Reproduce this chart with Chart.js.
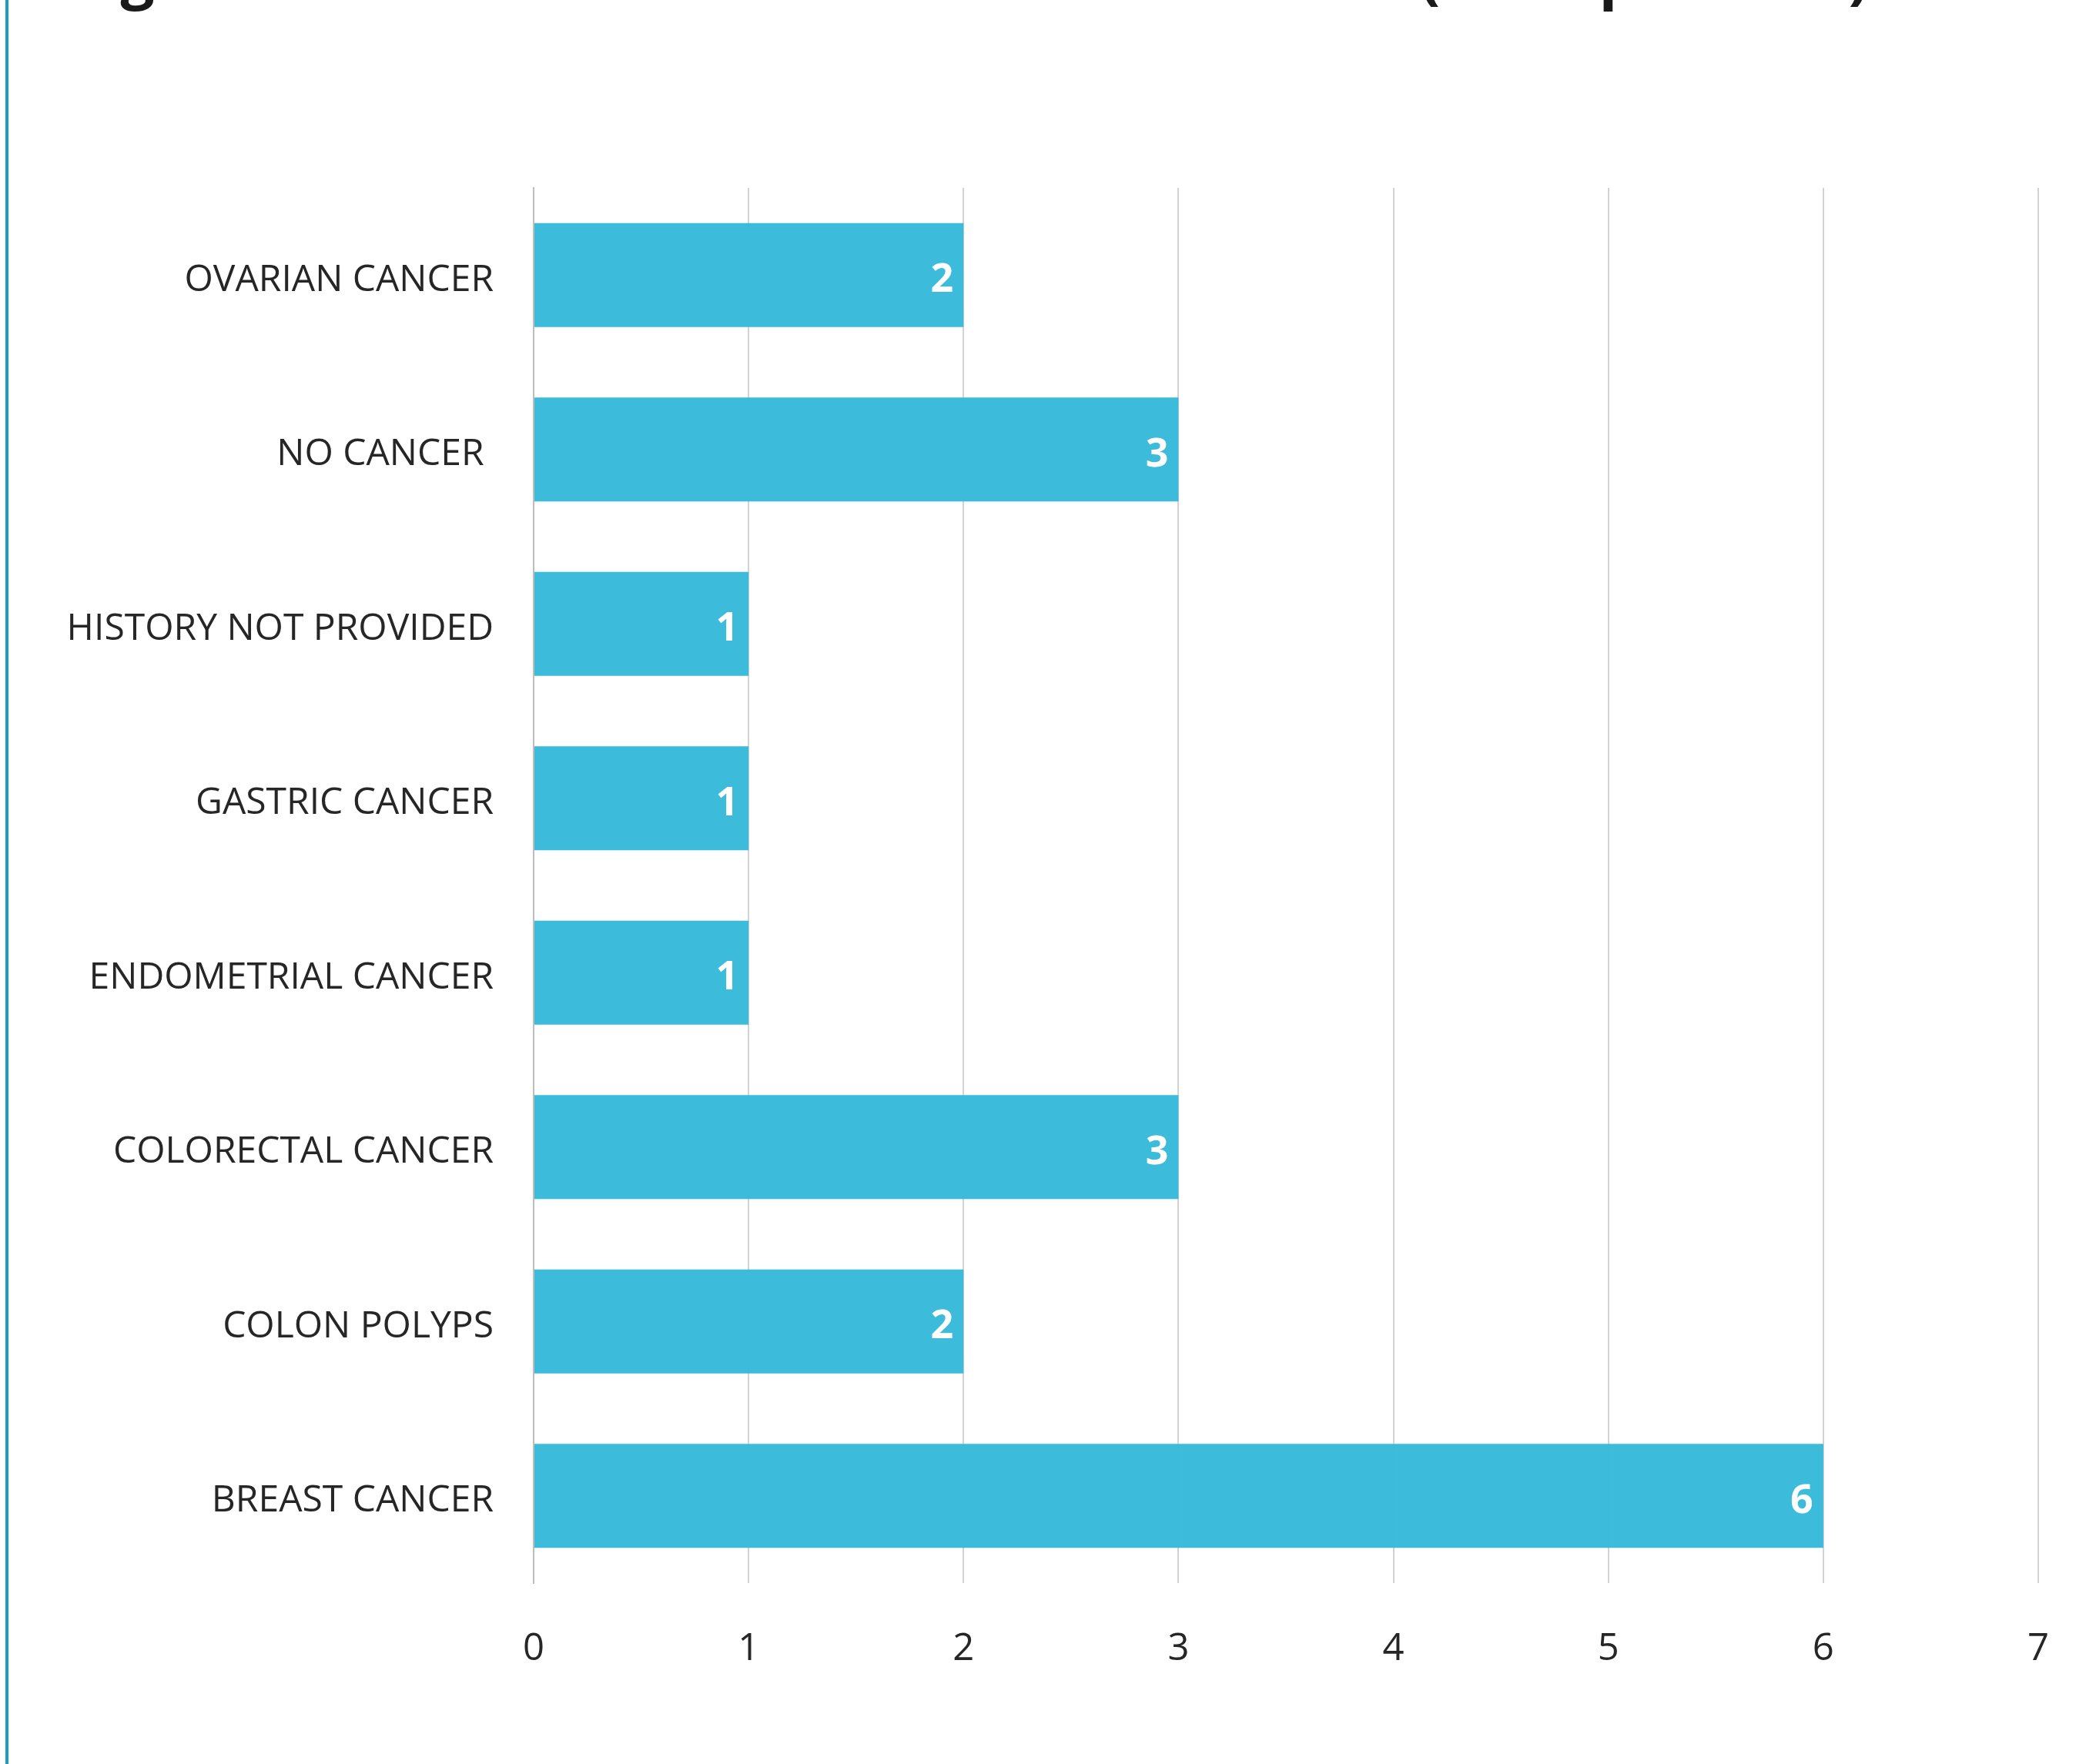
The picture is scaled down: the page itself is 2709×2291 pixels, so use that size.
<!DOCTYPE html>
<html>
<head>
<meta charset="utf-8">
<script src="https://cdn.jsdelivr.net/npm/chart.js@4.4.0/dist/chart.umd.min.js"></script>
<style>
  html, body { margin: 0; padding: 0; background: #fff; overflow: hidden; }
  #wrap { position: relative; width: 2709px; height: 2291px; overflow: hidden; }
  #borde { position: absolute; left: 7px; top: 0; width: 4px; height: 2291px; background: #1c9ec2; }
  #titulo {
    position: absolute; left: 90px; top: -73px; white-space: nowrap; word-spacing: 1px;
    font-family: "Open Sans", sans-serif; font-weight: 700; font-size: 78px; line-height: 78px; color: #1a1a1a;
  }
  #grafico { position: absolute; left: 0; top: 0; }
</style>
</head>
<body>
<div id="wrap">
  <div id="borde"></div>
  <div id="titulo">Figure 1: Distribution of cancer in the cohort (n=19 patients)</div>
  <canvas id="grafico" width="2709" height="2291"></canvas>
</div>
<script>
// Datos
const categorias = [
    "OVARIAN CANCER",
    "NO CANCER ",
    "HISTORY NOT PROVIDED",
    "GASTRIC CANCER",
    "ENDOMETRIAL CANCER",
    "COLORECTAL CANCER",
    "COLON POLYPS",
    "BREAST CANCER"
];
const pacientes = [2, 3, 1, 1, 1, 3, 2, 6];
const ticksX = [0, 1, 2, 3, 4, 5, 6, 7];

// Etiquetas blancas al final de cada barra
const etiquetas = {
    id: "etiquetas",
    afterDatasetsDraw(chart) {
        const ctx = chart.ctx;
        const meta = chart.getDatasetMeta(0);
        ctx.save();
        ctx.font = "bold 52px 'Open Sans'";
        ctx.fillStyle = "#ffffff";
        ctx.textAlign = "right";
        ctx.textBaseline = "middle";
        meta.data.forEach((barra, i) => {
            ctx.fillText(String(pacientes[i]), barra.x - 13, barra.y + 7);
        });
        ctx.restore();
    }
};

const ctx = document.getElementById("grafico").getContext("2d");

new Chart(ctx, {
    type: "bar",
    data: {
        labels: categorias,
        datasets: [{
            data: pacientes,
            backgroundColor: "rgba(52,184,218,0.96)",
            borderWidth: 0,
            barPercentage: 0.595,
            categoryPercentage: 1
        }]
    },
    options: {
        indexAxis: "y",
        responsive: false,
        animation: false,
        layout: { padding: { left: 0, right: 62, top: 244, bottom: 0 } },
        plugins: {
            legend: { display: false },
            tooltip: { enabled: false }
        },
        scales: {
            x: {
                min: 0,
                max: 7,
                afterBuildTicks: (scale) => {
                    scale.ticks = ticksX.map(v => ({ value: v }));
                },
                afterFit: (scale) => {
                    scale.height = 235;
                    scale.paddingLeft = 0;
                    scale.paddingRight = 0;
                },
                grid: { color: "#d3d3d3", lineWidth: 2, drawTicks: false },
                border: { display: false },
                ticks: {
                    padding: 57,
                    color: "#262626",
                    font: { family: "'Open Sans'", size: 49 }
                }
            },
            y: {
                afterFit: (scale) => { scale.width = 693; },
                grid: { display: false, drawTicks: false },
                border: { display: true, color: "#bdbdbd", width: 2 },
                ticks: {
                    padding: 52,
                    labelOffset: 7,
                    color: "#262626",
                    font: { family: "'Open Sans'", size: 48 }
                }
            }
        }
    },
    plugins: [etiquetas]
});
</script>
</body>
</html>
